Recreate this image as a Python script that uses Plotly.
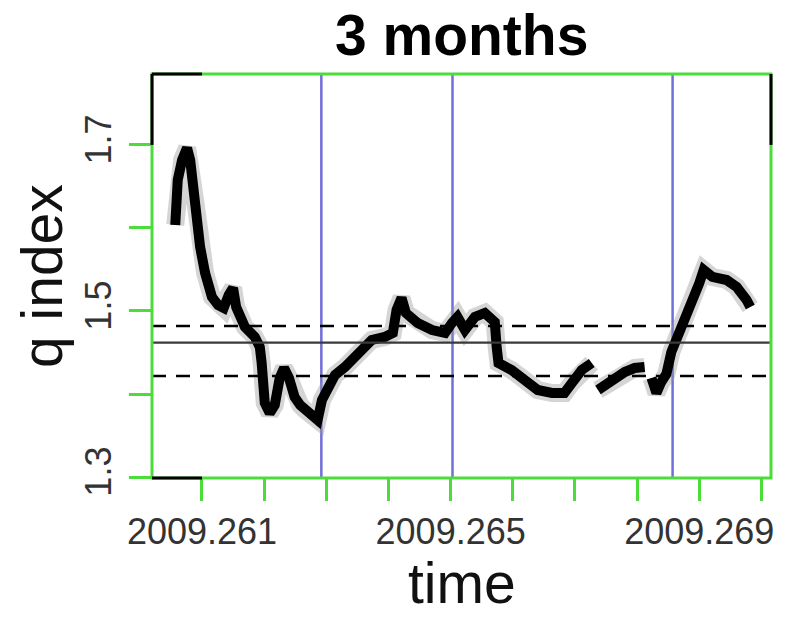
import plotly.graph_objects as go

# ---- data ----
time = [2009.26057, 2009.26061, 2009.26068, 2009.26076, 2009.26081, 2009.26084, 2009.26090,
        2009.26094, 2009.26097, 2009.26105, 2009.26116, 2009.26126, 2009.26135, 2009.26143,
        2009.26150, 2009.26155, 2009.26169, 2009.26185, 2009.26193, 2009.26196, 2009.26198,
        2009.26201, 2009.26209, 2009.26217, 2009.26225, 2009.26232, 2009.26240, 2009.26249,
        2009.26258, 2009.26266, 2009.26277, 2009.26286, 2009.26293, 2009.26303, 2009.26314,
        2009.26330, 2009.26351, 2009.26373, 2009.26394, 2009.26407, 2009.26413, 2009.26421,
        2009.26428, 2009.26447, 2009.26470, 2009.26491, 2009.26502, 2009.26511, 2009.26523,
        2009.26539, 2009.26555, 2009.26571, 2009.26574, 2009.26577, 2009.26598, 2009.26619,
        2009.26640, 2009.26663, 2009.26683, 2009.26695, 2009.26711, 2009.26727, None,
        2009.26737, 2009.26759, 2009.26780, 2009.26796, 2009.26812, None,
        2009.26823, 2009.26831, 2009.26838, 2009.26847, 2009.26855, 2009.26868, 2009.26881,
        2009.26892, 2009.26900, 2009.26907, 2009.26921, 2009.26944, 2009.26960, 2009.26976,
        2009.26982]
q_index = [1.6036, 1.6578, 1.6819, 1.6964, 1.6819, 1.6578, 1.6277,
           1.6060, 1.5771, 1.5458, 1.5169, 1.5072, 1.5036, 1.5193,
           1.5277, 1.5048, 1.4807, 1.4687, 1.4566, 1.4373, 1.4133,
           1.3892, 1.3771, 1.3867, 1.4193, 1.4313, 1.4193, 1.3964,
           1.3867, 1.3807, 1.3747, 1.3687, 1.3928, 1.4108, 1.4229,
           1.4325, 1.4494, 1.4651, 1.4687, 1.4735, 1.5012, 1.5157,
           1.4976, 1.4855, 1.4771, 1.4735, 1.4855, 1.4928, 1.4771,
           1.4928, 1.4976, 1.4867, 1.4566, 1.4373, 1.4289, 1.4169,
           1.4048, 1.4012, 1.4012, 1.4133, 1.4289, 1.4373, None,
           1.4048, 1.4169, 1.4265, 1.4313, 1.4325, None,
           1.4193, 1.4012, 1.4133, 1.4241, 1.4506, 1.4735, 1.4952,
           1.5133, 1.5337, 1.5494, 1.5410, 1.5373, 1.5289, 1.5133,
           1.5048]

mean_q = 1.4618
ci_upper = 1.4819
ci_lower = 1.4217
month_marks = [2009.26292, 2009.26503, 2009.26857]

x_tick_vals = [2009.261, 2009.262, 2009.263, 2009.264, 2009.265,
               2009.266, 2009.267, 2009.268, 2009.269, 2009.270]
x_tick_text = ["2009.261", "", "", "", "2009.265", "", "", "", "2009.269", ""]
y_tick_vals = [1.3, 1.4, 1.5, 1.6, 1.7]
y_tick_text = ["1.3", "", "1.5", "", "1.7"]

x_range = [2009.260196, 2009.270153]
y_range = [1.2988, 1.7855]

GREEN = "#4ddd3a"
BLUE = "#6f6fdc"
FONT = "Liberation Sans, Arial, sans-serif"

fig = go.Figure()

# grey uncertainty band behind the series
fig.add_trace(go.Scatter(x=time, y=q_index, mode="lines",
                         line=dict(color="rgba(150,150,150,0.4)", width=18),
                         hoverinfo="skip", showlegend=False))
fig.add_trace(go.Scatter(x=time, y=q_index, mode="lines",
                         line=dict(color="black", width=10),
                         showlegend=False))

shapes = []
for m in month_marks:
    shapes.append(dict(type="line", xref="x", yref="paper", x0=m, x1=m, y0=0, y1=1,
                       line=dict(color=BLUE, width=2.5), layer="below"))
shapes.append(dict(type="line", xref="paper", yref="y", x0=0, x1=1, y0=mean_q, y1=mean_q,
                   line=dict(color="#3a3a3a", width=2.2)))
for v in (ci_upper, ci_lower):
    shapes.append(dict(type="line", xref="paper", yref="y", x0=0, x1=1, y0=v, y1=v,
                       line=dict(color="black", width=2.5, dash="14px,10px")))
# frame: green box with black corner pieces
shapes.append(dict(type="rect", xref="paper", yref="paper", x0=0, x1=1, y0=0, y1=1,
                   line=dict(color=GREEN, width=3)))
shapes.append(dict(type="line", xref="x", yref="paper", x0=x_range[0], x1=x_tick_vals[0],
                   y0=1, y1=1, line=dict(color="black", width=3)))
shapes.append(dict(type="line", xref="x", yref="paper", x0=x_range[0], x1=x_tick_vals[0],
                   y0=0, y1=0, line=dict(color="black", width=3)))
shapes.append(dict(type="line", xref="paper", yref="y", x0=0, x1=0,
                   y0=y_tick_vals[-1], y1=y_range[1], line=dict(color="black", width=3)))
shapes.append(dict(type="line", xref="paper", yref="y", x0=1, x1=1,
                   y0=y_tick_vals[-1], y1=y_range[1], line=dict(color="black", width=3)))

fig.update_layout(
    width=787, height=619,
    margin=dict(l=152, r=16, t=74, b=141, autoexpand=False),
    paper_bgcolor="white", plot_bgcolor="white",
    font=dict(family=FONT, color="#222"),
    shapes=shapes,
    showlegend=False,
    annotations=[
        dict(text="<b>3 months</b>", xref="paper", yref="paper", x=0.5, y=1,
             yshift=39, showarrow=False, font=dict(size=57, color="black", family=FONT),
             xanchor="center", yanchor="middle"),
        dict(text="time", xref="paper", yref="paper", x=0.5, y=0, yshift=-139,
             showarrow=False, font=dict(size=57, color="#111", family=FONT),
             xanchor="center", yanchor="bottom"),
        dict(text="q index", xref="paper", yref="paper", x=0, y=0.5, xshift=-110,
             textangle=-90, showarrow=False,
             font=dict(size=57, color="#111", family=FONT),
             xanchor="center", yanchor="middle"),
    ],
)
fig.update_xaxes(range=x_range, tickmode="array", tickvals=x_tick_vals, ticktext=x_tick_text,
                 ticks="outside", ticklen=22, tickwidth=2.5, tickcolor=GREEN,
                 tickfont=dict(size=36, color="#333", family=FONT), automargin=False,
                 showgrid=False, zeroline=False, showline=False, ticklabelstandoff=0)
fig.update_yaxes(range=y_range, tickmode="array", tickvals=y_tick_vals, ticktext=y_tick_text,
                 ticks="outside", ticklen=22, tickwidth=2.5, tickcolor=GREEN, tickangle=-90,
                 tickfont=dict(size=36, color="#333", family=FONT), automargin=False,
                 showgrid=False, zeroline=False, showline=False, ticklabelstandoff=4)

# remove the page's default body margin so the figure fills the window exactly
fig.write_html("out.html", config={"displayModeBar": False},
               post_script="document.body.style.margin='0';")
